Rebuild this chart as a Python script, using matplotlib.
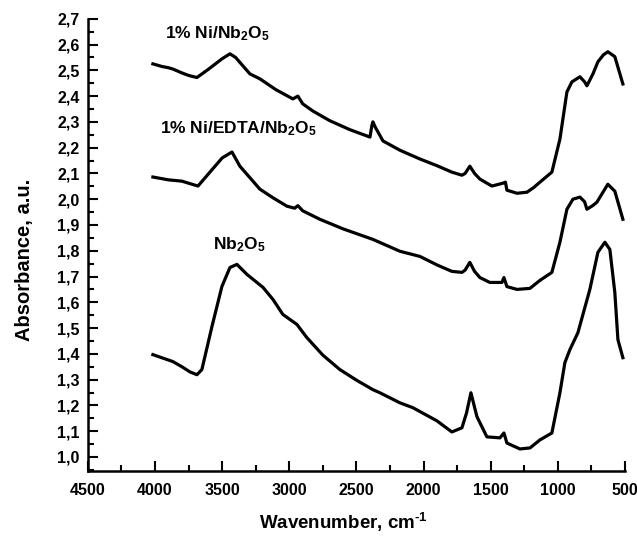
import matplotlib
matplotlib.use('Agg')
import matplotlib.pyplot as plt
from matplotlib.ticker import MultipleLocator, FuncFormatter

plt.rcParams['font.family'] = ['Liberation Sans', 'DejaVu Sans']
plt.rcParams['font.weight'] = 'bold'
plt.rcParams['mathtext.fontset'] = 'custom'
plt.rcParams['mathtext.rm'] = 'Liberation Sans:bold'
plt.rcParams['mathtext.bf'] = 'Liberation Sans:bold'
plt.rcParams['mathtext.default'] = 'bf'

# 1% Ni/Nb2O5
wn_ni = [4016, 3950, 3900, 3867, 3800, 3750, 3688, 3600, 3500, 3442, 3400, 3293,
         3219, 3100, 2973, 2936, 2900, 2824, 2700, 2550, 2399, 2385, 2377, 2360,
         2302, 2176, 2027, 1900, 1789, 1714, 1690, 1655, 1620, 1580, 1491, 1409,
         1390, 1379, 1304, 1230, 1180, 1133, 1044, 984, 932, 895, 835, 800, 783,
         738, 701, 660, 627, 575, 515]
ab_ni = [2.525, 2.515, 2.51, 2.505, 2.49, 2.48, 2.472, 2.505, 2.545, 2.564, 2.55,
         2.486, 2.467, 2.425, 2.389, 2.40, 2.37, 2.342, 2.305, 2.27, 2.241, 2.285,
         2.30, 2.28, 2.226, 2.19, 2.156, 2.13, 2.105, 2.093, 2.1, 2.128, 2.1,
         2.078, 2.051, 2.062, 2.066, 2.035, 2.023, 2.027, 2.045, 2.066, 2.105,
         2.233, 2.416, 2.455, 2.475, 2.455, 2.44, 2.486, 2.533, 2.56, 2.572,
         2.553, 2.447]

# 1% Ni/EDTA/Nb2O5
wn_edta = [4016, 3900, 3800, 3750, 3680, 3591, 3500, 3427, 3368, 3219, 3120, 3018,
           2960, 2936, 2900, 2772, 2600, 2377, 2176, 2027, 1900, 1789, 1714, 1690,
           1655, 1620, 1580, 1506, 1416, 1401, 1379, 1304, 1207, 1133, 1044, 984,
           932, 887, 835, 800, 783, 740, 709, 660, 627, 575, 515]
ab_edta = [2.086, 2.075, 2.07, 2.062, 2.051, 2.105, 2.16, 2.183, 2.128, 2.039,
           2.005, 1.973, 1.965, 1.975, 1.955, 1.922, 1.885, 1.844, 1.798, 1.778,
           1.745, 1.72, 1.716, 1.725, 1.755, 1.72, 1.696, 1.677, 1.677, 1.696,
           1.661, 1.65, 1.654, 1.685, 1.716, 1.833, 1.961, 2.0, 2.008, 1.99,
           1.961, 1.975, 1.988, 2.03, 2.058, 2.031, 1.922]

# Nb2O5
wn_nb = [4016, 3950, 3867, 3800, 3740, 3688, 3651, 3576, 3502, 3442, 3390, 3315,
         3196, 3120, 3048, 2943, 2869, 2750, 2623, 2500, 2377, 2325, 2176, 2079,
         1900, 1789, 1714, 1680, 1647, 1602, 1528, 1431, 1401, 1379, 1282, 1207,
         1133, 1044, 984, 947, 910, 850, 761, 701, 649, 612, 575, 552, 515]
ab_nb = [1.397, 1.385, 1.37, 1.35, 1.33, 1.319, 1.339, 1.506, 1.661, 1.735, 1.747,
         1.708, 1.658, 1.61, 1.553, 1.514, 1.463, 1.395, 1.339, 1.298, 1.261,
         1.249, 1.21, 1.191, 1.14, 1.097, 1.113, 1.17, 1.249, 1.156, 1.078,
         1.074, 1.093, 1.054, 1.031, 1.035, 1.066, 1.093, 1.249, 1.366, 1.416,
         1.482, 1.65, 1.794, 1.833, 1.805, 1.638, 1.455, 1.385]

labels = ['1% Ni/Nb$_2$O$_5$', '1% Ni/EDTA/Nb$_2$O$_5$', 'Nb$_2$O$_5$']
label_pos = [(3926, 2.642), (3964, 2.272), (3569, 1.825)]

fig = plt.figure(figsize=(6.37, 5.36), dpi=100)
ax = fig.add_axes([0.138, 0.122, 0.843, 0.843])

for wn, ab in [(wn_ni, ab_ni), (wn_edta, ab_edta), (wn_nb, ab_nb)]:
    ax.plot(wn, ab, color='black', lw=2.3, solid_joinstyle='round')

for txt, (x, y) in zip(labels, label_pos):
    ax.text(x, y, txt, fontsize=12.5, fontweight='bold', ha='left', va='center')

ax.set_xlim(4500, 500)
ax.set_ylim(0.947, 2.7)
ax.xaxis.set_major_locator(MultipleLocator(500))
ax.xaxis.set_minor_locator(MultipleLocator(250))
ax.yaxis.set_major_locator(MultipleLocator(0.1))
ax.yaxis.set_minor_locator(MultipleLocator(0.05))
ax.yaxis.set_major_formatter(FuncFormatter(lambda v, p: ('%.1f' % v).replace('.', ',')))
ax.xaxis.set_major_formatter(FuncFormatter(lambda v, p: '%d' % v))

ax.spines['top'].set_visible(False)
ax.spines['right'].set_visible(False)
for s in ['left', 'bottom']:
    ax.spines[s].set_linewidth(1.8)
ax.tick_params(which='major', direction='in', length=7, width=1.5, labelsize=11.5)
ax.tick_params(which='minor', direction='in', length=4, width=1.5)
ax.tick_params(axis='x', which='major', pad=9)
ax.tick_params(axis='y', which='major', pad=6)
for lab in ax.get_xticklabels() + ax.get_yticklabels():
    lab.set_fontweight('bold')

ax.set_xlabel(r'Wavenumber, cm$^{\text{-1}}$', fontsize=13.5, fontweight='bold')
ax.set_ylabel('Absorbance, a.u.', fontsize=14.5, fontweight='bold')
ax.xaxis.set_label_coords(0.475, -0.09)
ax.yaxis.set_label_coords(-0.1, 0.467)

fig.savefig('out.png', dpi=100)
